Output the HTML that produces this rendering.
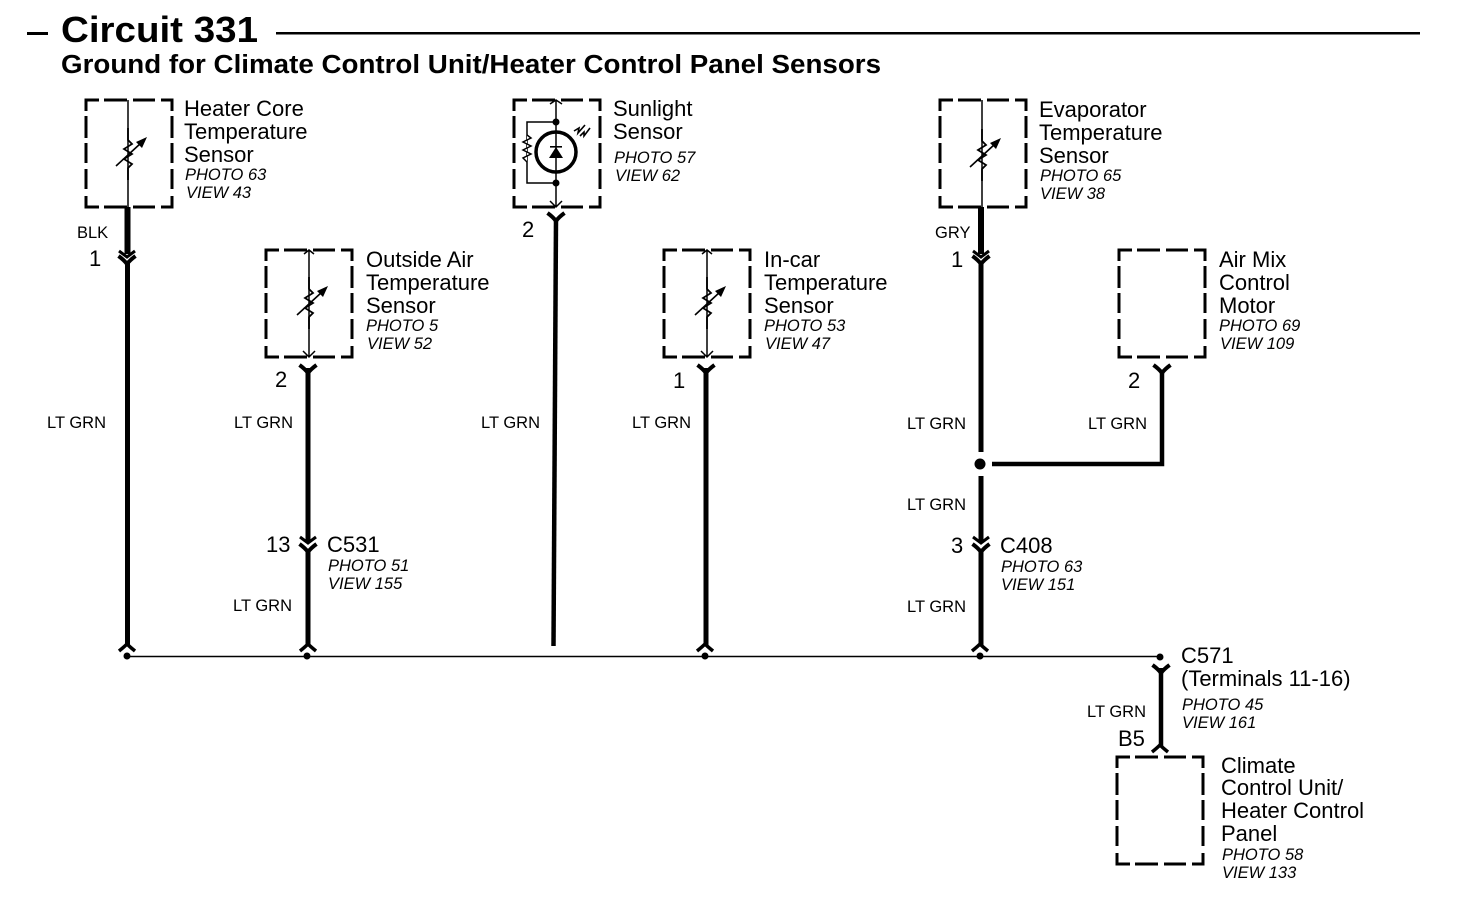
<!DOCTYPE html>
<html>
<head>
<meta charset="utf-8">
<style>
html,body{margin:0;padding:0;background:#fff;width:1472px;height:910px;overflow:hidden}
svg{display:block}
text{font-family:"Liberation Sans",sans-serif;fill:#000}
.m{font-size:22px}
.i{font-size:16.5px;font-style:italic}
.w{font-size:16.5px}
.t{font-weight:bold}
</style>
</head>
<body>
<svg width="1472" height="910" viewBox="0 0 1472 910" xmlns="http://www.w3.org/2000/svg">
<defs>
<g id="box" fill="none" stroke="#000" stroke-width="3">
<path d="M0,11V0H13M18,0H41M47,0H69M75,0H86V11M0,16V38M0,43V63M0,69V89M0,96V107H13M18,107H41M47,107H69M75,107H86V96M86,16V38M86,43V63M86,69V89"/>
</g>
<path id="v" d="M-8,-7 L0,-1 L8,-7" fill="none" stroke="#000" stroke-width="3"/>
<path id="y" d="M-8.500,-6 Q-3,-2 0,2 Q3,-2 8.500,-6 M0,0 V6" fill="none" stroke="#000" stroke-width="4"/>
<path id="u" d="M-8,5 Q-3,1 0,-2 Q3,1 8,5" fill="none" stroke="#000" stroke-width="3.500"/>
<g id="res" fill="none" stroke="#000">
<path d="M0,-26 L0,-14 L4,-10 L-4,-5 L4,0 L-4,5 L4,10 L0,14 L0,26" stroke-width="1.800"/>
<path d="M-12,12 L13,-11" stroke-width="1.600"/>
<path d="M19,-17 L8,-12 L14,-6 Z" fill="#000" stroke="none"/>
</g>
</defs>

<!-- title -->
<rect x="27" y="32" width="21" height="3"/>
<text x="61" y="42" class="t" font-size="36" textLength="197" lengthAdjust="spacingAndGlyphs">Circuit 331</text>
<rect x="276" y="32" width="1144" height="2.5"/>
<text x="61" y="73" class="t" font-size="25.500" textLength="820" lengthAdjust="spacingAndGlyphs">Ground for Climate Control Unit/Heater Control Panel Sensors</text>

<!-- boxes -->
<use href="#box" x="86" y="100"/>
<use href="#box" x="514" y="100"/>
<use href="#box" x="940" y="100"/>
<use href="#box" x="266" y="250"/>
<use href="#box" x="664" y="250"/>
<use href="#box" x="1119" y="250"/>
<use href="#box" x="1117" y="757"/>

<!-- sensor internals -->
<path d="M128,100V207" stroke="#000" stroke-width="1.500"/>
<use href="#res" x="128" y="154"/>
<path d="M982,100V207" stroke="#000" stroke-width="1.500"/>
<use href="#res" x="982" y="155"/>
<path d="M309,250V357M304,254L309,250L314,254M303,351L309,357L315,351" stroke="#000" stroke-width="1.500" fill="none"/>
<use href="#res" x="309" y="303"/>
<path d="M707,250V357M702,254L707,250L712,254M701,351L707,357L713,351" stroke="#000" stroke-width="1.500" fill="none"/>
<use href="#res" x="707" y="303"/>

<!-- sunlight sensor -->
<g fill="none" stroke="#000">
<path d="M556,100V207M550,104L556,100L562,104M550,201L556,207L562,201" stroke-width="1.500"/>
<circle cx="556" cy="152" r="20" stroke-width="3.500"/>
<path d="M556,122H527V183H556" stroke-width="1.500"/>
<path d="M527,135L531,138L523,142L531,146L523,150L531,154L523,158L527,162" stroke-width="1.500" fill="#fff"/>
<path d="M574,131L579,128L578,133L585,125M580,136L584,132L584,136L590,128" stroke-width="1.600"/>
</g>
<circle cx="556" cy="122" r="3.500"/>
<circle cx="556" cy="183" r="3.500"/>
<path d="M549,158H563L556,147Z"/>
<rect x="550" y="146" width="12" height="1.600"/>

<!-- wires -->
<g stroke="#000" fill="none">
<path d="M127.500,207V254" stroke-width="6"/>
<path d="M127.500,262V645" stroke-width="5"/>
<path d="M308,368V542M308,551V645" stroke-width="5"/>
<path d="M556,218L553.500,646" stroke-width="4.500"/>
<path d="M706,368V645" stroke-width="5"/>
<path d="M981,207V254" stroke-width="6"/>
<path d="M981,262V452" stroke-width="5"/>
<path d="M981,476V542M981,551V645" stroke-width="5"/>
<path d="M992,464H1162V370" stroke-width="4.500"/>
<path d="M1161,668V746" stroke-width="4.500"/>
<path d="M127,656.500H1160" stroke-width="1.600"/>
</g>

<!-- connectors -->
<use href="#v" x="127" y="258"/><use href="#y" x="127" y="262"/>
<use href="#v" x="981" y="258"/><use href="#y" x="981" y="262"/>
<use href="#v" x="308" y="544"/><use href="#y" x="308" y="550"/>
<use href="#v" x="981" y="544"/><use href="#y" x="981" y="550"/>
<use href="#y" x="308" y="371"/>
<use href="#y" x="556" y="219"/>
<use href="#y" x="706" y="371"/>
<use href="#y" x="1162" y="371"/>
<use href="#y" x="1161" y="671"/>
<use href="#u" x="127" y="646"/>
<use href="#u" x="308" y="646"/>
<use href="#u" x="705" y="646"/>
<use href="#u" x="980" y="646"/>
<use href="#u" x="1160" y="747"/>

<!-- dots -->
<circle cx="127" cy="656" r="3.500"/>
<circle cx="307" cy="656" r="3.500"/>
<circle cx="705" cy="656" r="3.500"/>
<circle cx="980" cy="656" r="3.500"/>
<circle cx="1160" cy="657" r="3.500"/>
<circle cx="980" cy="464" r="5.500"/>

<!-- labels -->
<text x="184" y="116" class="m">Heater Core</text>
<text x="184" y="139" class="m">Temperature</text>
<text x="184" y="162" class="m">Sensor</text>
<text x="185" y="180" class="i">PHOTO 63</text>
<text x="186" y="198" class="i">VIEW 43</text>

<text x="613" y="116" class="m">Sunlight</text>
<text x="613" y="139" class="m">Sensor</text>
<text x="614" y="163" class="i">PHOTO 57</text>
<text x="615" y="181" class="i">VIEW 62</text>

<text x="1039" y="117" class="m">Evaporator</text>
<text x="1039" y="140" class="m">Temperature</text>
<text x="1039" y="163" class="m">Sensor</text>
<text x="1040" y="181" class="i">PHOTO 65</text>
<text x="1040" y="199" class="i">VIEW 38</text>

<text x="366" y="267" class="m">Outside Air</text>
<text x="366" y="290" class="m">Temperature</text>
<text x="366" y="313" class="m">Sensor</text>
<text x="366" y="331" class="i">PHOTO 5</text>
<text x="367" y="349" class="i">VIEW 52</text>

<text x="764" y="267" class="m">In-car</text>
<text x="764" y="290" class="m">Temperature</text>
<text x="764" y="313" class="m">Sensor</text>
<text x="764" y="331" class="i">PHOTO 53</text>
<text x="765" y="349" class="i">VIEW 47</text>

<text x="1219" y="267" class="m">Air Mix</text>
<text x="1219" y="290" class="m">Control</text>
<text x="1219" y="313" class="m">Motor</text>
<text x="1219" y="331" class="i">PHOTO 69</text>
<text x="1220" y="349" class="i">VIEW 109</text>

<text x="1221" y="773" class="m">Climate</text>
<text x="1221" y="795" class="m">Control Unit/</text>
<text x="1221" y="818" class="m">Heater Control</text>
<text x="1221" y="841" class="m">Panel</text>
<text x="1222" y="860" class="i">PHOTO 58</text>
<text x="1222" y="878" class="i">VIEW 133</text>

<text x="327" y="552" class="m">C531</text>
<text x="328" y="571" class="i">PHOTO 51</text>
<text x="328" y="589" class="i">VIEW 155</text>

<text x="1000" y="553" class="m">C408</text>
<text x="1001" y="572" class="i">PHOTO 63</text>
<text x="1001" y="590" class="i">VIEW 151</text>

<text x="1181" y="663" class="m">C571</text>
<text x="1181" y="686" class="m">(Terminals 11-16)</text>
<text x="1182" y="710" class="i">PHOTO 45</text>
<text x="1182" y="728" class="i">VIEW 161</text>

<!-- pin numbers -->
<text x="89" y="266" class="m">1</text>
<text x="275" y="387" class="m">2</text>
<text x="522" y="237" class="m">2</text>
<text x="673" y="388" class="m">1</text>
<text x="951" y="267" class="m">1</text>
<text x="1128" y="388" class="m">2</text>
<text x="266" y="552" class="m">13</text>
<text x="951" y="553" class="m">3</text>
<text x="1118" y="746" class="m">B5</text>

<!-- wire colours -->
<text x="77" y="238" class="w">BLK</text>
<text x="935" y="238" class="w">GRY</text>
<text x="47" y="428" class="w">LT GRN</text>
<text x="234" y="428" class="w">LT GRN</text>
<text x="481" y="428" class="w">LT GRN</text>
<text x="632" y="428" class="w">LT GRN</text>
<text x="907" y="429" class="w">LT GRN</text>
<text x="1088" y="429" class="w">LT GRN</text>
<text x="907" y="510" class="w">LT GRN</text>
<text x="233" y="611" class="w">LT GRN</text>
<text x="907" y="612" class="w">LT GRN</text>
<text x="1087" y="717" class="w">LT GRN</text>
</svg>
</body>
</html>
